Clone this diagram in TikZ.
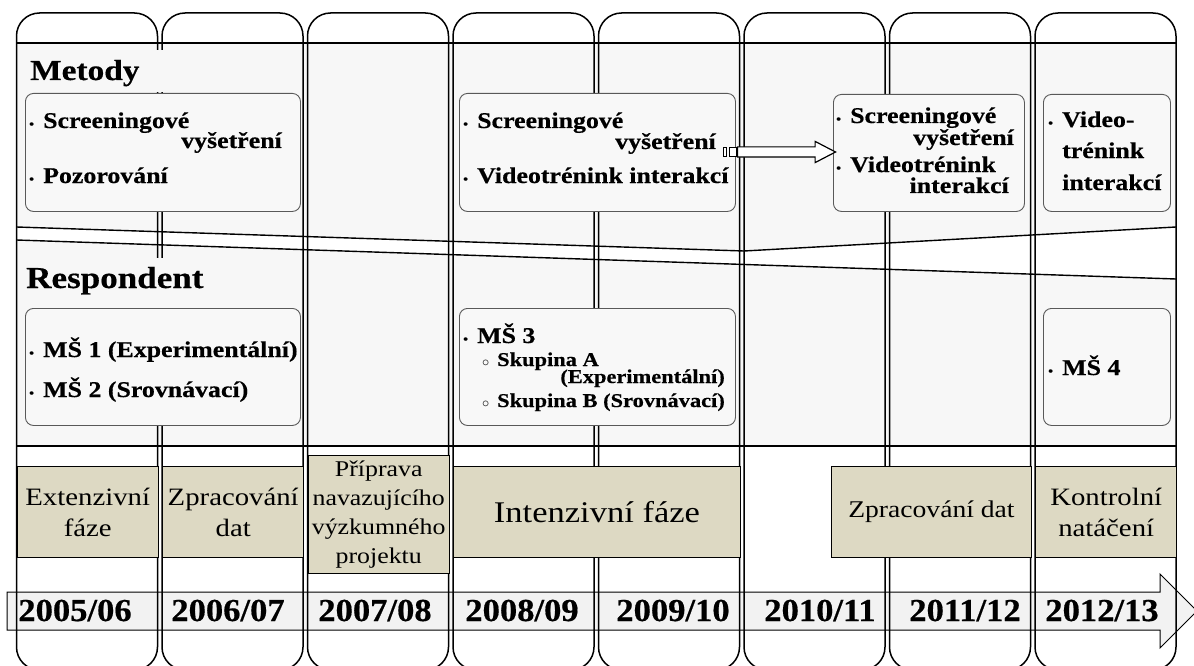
\documentclass[tikz,border=0pt]{standalone}
\usepackage{fontspec}
\setmainfont{Liberation Serif}[FakeStretch=1.15, BoldFeatures={FakeBold=0.5}]
\newfontfamily\yearfont{Liberation Serif}[FakeStretch=1.08, BoldFeatures={FakeBold=0.5}]
\usetikzlibrary{shapes.arrows}
\definecolor{panelgray}{HTML}{F7F7F7}
\definecolor{boxgray}{HTML}{F8F8F8}
\definecolor{boxline}{HTML}{595959}
\definecolor{phasetan}{HTML}{DDD9C3}
\definecolor{yeargray}{HTML}{F2F2F2}
\newcommand{\blt}{\makebox[14pt][l]{\fontsize{12}{12}\selectfont\textbullet}}
\newcommand{\crc}{\makebox[15pt][l]{$\scriptstyle\circ$}}

\begin{document}
\begin{tikzpicture}[x=1pt, y=-1pt,
			col/.style={line width=1.5pt, rounded corners=23pt},
			edge/.style={line width=1.4pt},
			title/.style={fill=panelgray, inner xsep=0pt, inner ysep=4pt, text width=270pt, text height=26pt,
				font=\fontsize{29}{32}\selectfont\bfseries, anchor=base west},
			bbox/.style={draw=boxline, fill=boxgray, line width=0.9pt, rounded corners=8pt, anchor=north west, inner sep=0pt},
			itm/.style={inner sep=0pt, font=\fontsize{22.5}{26}\selectfont\bfseries, anchor=base west},
			itmr/.style={itm, anchor=base east},
			sub/.style={itm, font=\fontsize{19.5}{22}\selectfont\bfseries},
			phase/.style={draw, fill=phasetan, line width=1.4pt, anchor=north west, inner sep=0pt, align=center,
				font=\fontsize{25}{31}\selectfont},
			year/.style={font=\fontsize{32}{32}\yearfont\bfseries, anchor=base, inner sep=0pt},
			handle/.style={draw, fill=white, line width=0.8pt, inner sep=0pt, minimum height=9pt},
			blockarrow/.style={single arrow, draw, fill=white, line width=1.2pt, minimum height=98pt, minimum width=20pt,
				inner ysep=4.5pt, inner xsep=0pt, single arrow tip angle=55, single arrow head extend=5.5pt}]
			\useasboundingbox (0,0) rectangle (1194,666);
			\clip (0,0) rectangle (1194,666);
			\fill[white] (0,0) rectangle (1194,666);
			\draw[fill=yeargray, line width=1pt] (7,592) -- (1160,592) -- (1160,574) -- (1197,611)
				-- (1160,648) -- (1160,630) -- (7,630) -- cycle;
			\fill[panelgray] (16.5,43) -- (1176,43) -- (1176,227) -- (744,251) -- (16.5,227) -- cycle;
			\fill[panelgray] (16.5,240) -- (1176,279) -- (1176,446) -- (16.5,446) -- cycle;
			\draw[edge] (16.5,43) -- (1176,43);
			\draw[edge] (16.5,227) -- (744,251) -- (1176,227);
			\draw[edge] (16.5,240) -- (1176,279);
			\draw[edge] (16.5,446) -- (1176,446);
			\foreach \i in {0,...,7}
				\draw[col] ({16.5+145.5*\i},13) rectangle ({157.5+145.5*\i},670);
			\node[title, text depth=8pt] (metody) at (30,80) {Metody};
			\node[title, text depth=16pt, font=\fontsize{30.5}{32}\selectfont\bfseries] (resp) at (26,288) {Respondent};
			\node[bbox, minimum width=275pt, minimum height=118pt] (metA) at (25,93) {};
			\node[bbox, minimum width=276pt, minimum height=118pt] (metB) at (459,93) {};
			\node[bbox, minimum width=191pt, minimum height=117pt] (metC) at (833,94) {};
			\node[bbox, minimum width=127pt, minimum height=117pt] (metD) at (1043,94) {};
			\node[bbox, minimum width=275pt, minimum height=117pt] (resA) at (25,308) {};
			\node[bbox, minimum width=276pt, minimum height=117pt] (resB) at (459,308) {};
			\node[bbox, minimum width=127pt, minimum height=117pt] (resC) at (1043,308) {};
			\node[itm] (metA1) at (29,128) {\blt Screeningové};
			\node[itmr] (metA2) at (282,148) {vyšetření};
			\node[itm] (metA3) at (29,183) {\blt Pozorování};
			\node[itm] (metB1) at (463,128) {\blt Screeningové};
			\node[itmr] (metB2) at (716,149) {vyšetření};
			\node[itm] (metB3) at (463,183) {\blt Videotrénink interakcí};
			\node[itm] (metC1) at (836,123) {\blt Screeningové};
			\node[itmr] (metC2) at (1014,145) {vyšetření};
			\node[itm] (metC3) at (836,172) {\blt Videotrénink};
			\node[itmr] (metC4) at (1009,193) {interakcí};
			\node[itm] (metD1) at (1048,127) {\blt Video-};
			\node[itm] (metD2) at (1062,158) {trénink};
			\node[itm] (metD3) at (1062,190) {interakcí};
			\node[itm] (resA1) at (29,357) {\blt MŠ 1 (Experimentální)};
			\node[itm] (resA2) at (29,397) {\blt MŠ 2 (Srovnávací)};
			\node[itm] (resB1) at (463,343) {\blt MŠ 3};
			\node[sub] (resB2) at (482,366) {\crc Skupina A};
			\node[sub, anchor=base east] (resB3) at (725,383) {(Experimentální)};
			\node[sub] (resB4) at (482,407) {\crc Skupina B (Srovnávací)};
			\node[itm] (resC1) at (1048,375) {\blt MŠ 4};
			\node[handle, minimum width=3.5pt] (hA) at (725,152) {};
			\node[handle, minimum width=7pt] (hB) at (733,152) {};
			\node[blockarrow, anchor=tail] (move) at (hB.east) {};
			\node[phase, minimum width=141pt, minimum height=91pt] (ph1) at (16.5,466) {Extenzivní\\fáze};
			\node[phase, minimum width=141pt, minimum height=91pt] (ph2) at (162,466) {Zpracování\\dat};
			\node[phase, minimum width=141pt, minimum height=118pt, font=\fontsize{22.5}{29}\selectfont] (ph3) at (307.5,455)
				{Příprava\\navazujícího\\výzkumného\\projektu};
			\node[phase, minimum width=286.5pt, minimum height=91pt, font=\fontsize{30}{31}\selectfont] (ph4) at (453,466)
				{Intenzivní fáze};
			\node[phase, minimum width=199.5pt, minimum height=91pt, font=\fontsize{24}{31}\selectfont] (ph5) at (831,466)
				{Zpracování dat};
			\node[phase, minimum width=141pt, minimum height=91pt] (ph6) at (1035,466) {Kontrolní\\natáčení};
			\foreach \x/\y [count=\i] in {75/{2005/06},228/{2006/07},375/{2007/08},522/{2008/09},
				673/{2009/10},820/{2010/11},965/{2011/12},1102/{2012/13}}
				\node[year] (y\i) at (\x,621) {\y};
\end{tikzpicture}
\end{document}
